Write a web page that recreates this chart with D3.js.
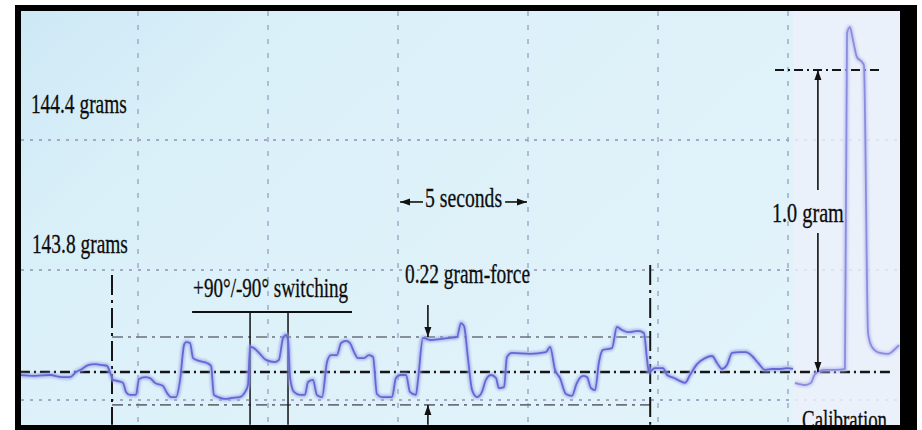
<!DOCTYPE html>
<html>
<head>
<meta charset="utf-8">
<script src="https://cdn.jsdelivr.net/npm/d3@7"></script>
<style>
  html, body { margin: 0; padding: 0; background: #fff; }
  svg { display: block; }
</style>
</head>
<body>
<svg id="chart" width="922" height="430"></svg>
<script>
// strip-chart trace: time in seconds, force in mg relative to the reference level
const traceTime = [0.46, 1.04, 1.62, 2.08, 2.38, 2.62, 2.85, 3.08, 3.35, 3.62, 3.81, 3.92,
  4.04, 4.23, 4.42, 4.54, 4.69, 4.92, 5.04, 5.27, 5.46, 5.65, 5.96, 6.12, 6.27, 6.46, 6.62,
  6.77, 6.85, 7.00, 7.12, 7.38, 7.65, 7.81, 7.92, 8.08, 8.35, 8.62, 8.92, 9.12, 9.23, 9.31,
  9.46, 9.69, 9.92, 10.27, 10.42, 10.58, 10.69, 10.77, 10.85, 11.00, 11.23, 11.42, 11.54,
  11.73, 11.88, 12.08, 12.27, 12.42, 12.65, 12.81, 13.00, 13.15, 13.31, 13.46, 13.69, 13.88,
  14.04, 14.19, 14.38, 14.77, 14.92, 15.08, 15.31, 15.46, 15.69, 15.77, 15.96, 16.23, 16.62,
  17.00, 17.27, 17.42, 17.54, 17.69, 17.85, 18.04, 18.23, 18.38, 18.58, 18.77, 18.88, 19.08,
  19.19, 19.38, 20.08, 20.69, 20.85, 21.04, 21.23, 21.46, 21.69, 21.88, 22.12, 22.27, 22.42,
  22.58, 22.73, 22.88, 23.23, 23.42, 23.62, 23.85, 24.23, 24.46, 24.58, 24.65, 24.88, 25.19,
  25.35, 25.62, 25.85, 26.04, 26.23, 26.50, 26.81, 27.08, 27.27, 27.46, 27.65, 27.85, 28.15,
  28.38, 28.62, 28.85, 29.12, 29.38, 29.69, 29.96, 30.19];
const traceForce = [-10, -13, -10, -17, -17, 0, 10, 23, 26, 23, 20, 0,
  -26, -30, -36, -66, -76, -76, -23, -17, -20, -36, -46, -70, -83, -83, -26,
  89, 99, 96, 46, 36, 30, 20, -76, -83, -89, -86, -83, -66, -43, 83,
  79, 60, 40, 33, 40, 113, 123, 106, -20, -66, -76, -76, -33,
  -26, -76, -83, 33, 56, 56, 96, 103, 96, 66, 46, 46, 56,
  50, -73, -83, -83, -20, -10, -10, -66, -76, -26, 113, 106, 109,
  113, 116, 162, 152, 46, -60, -83, -66, -26, -10, -20, -53, -50,
  50, 63, 60, 66, 83, 7, -20, -73, -79, -36, -13, -17, -53,
  -60, 33, 73, 79, 149, 139, 132, 136, 129, 40, 0, 13, 13,
  -10, -20, -30, -36, -10, 26, 46, 53, 30, 10, 23, 63, 66,
  66, 53, 30, 7, 10, 10, 13, 10];

// calibration panel, 1.0 gram weight added
const calTime = [30.27, 30.65, 30.88, 31.04, 31.42, 31.81, 32.19, 32.27, 32.38, 32.50,
  32.65, 32.85, 32.92, 33.08, 33.23, 33.54, 33.85, 34.08, 34.27];
const calForce = [-36, -43, -36, -7, 7, 7, 10, 1122, 1142, 1099,
  1043, 1026, 1016, 129, 83, 63, 60, 73, 89];

// chart paper grid
const gridTimes = [5, 10, 15, 20, 25, 30];
const gridForces = [768, 338, -93];

// reference levels (mg) and event times (s)
const baseLevel = 0;
const highLevel = 116;
const lowLevel = -109;
const calLevel = 1000;
const markerTimes = [4.0, 24.7];
const switchSpan = [7.08, 13.23];
const switchTicks = [9.31, 10.77];

main();

function main () {
  const svg = d3.select('#chart');
  const x = d3.scaleLinear().domain([0, 35]).range([8, 918]);
  const y = d3.scaleLinear().domain([0, 1000]).range([372, 70]);
  const bottom = -175;

  drawFrame(svg);
  const g = svg.append('g').attr('clip-path', 'url(#panel)');
  drawPaper(g, x, y);
  drawGuides(g, x, y, bottom);
  drawTrace(g, x, y);
  drawLabels(g, x, y, bottom);
}

function drawFrame (svg) {
  const defs = svg.append('defs');
  defs.append('clipPath').attr('id', 'panel')
    .append('rect').attr('x', 21).attr('y', 11).attr('width', 879).attr('height', 414);

  const grad = defs.append('linearGradient').attr('id', 'paper')
    .attr('x1', '0%').attr('x2', '100%').attr('y1', '0%').attr('y2', '50%');
  grad.append('stop').attr('offset', '0%').attr('stop-color', '#cde8f5');
  grad.append('stop').attr('offset', '25%').attr('stop-color', '#daf0f9');
  grad.append('stop').attr('offset', '100%').attr('stop-color', '#e2f3fa');

  defs.append('filter').attr('id', 'soft')
    .attr('x', '-5%').attr('y', '-5%').attr('width', '110%').attr('height', '110%')
    .append('feGaussianBlur').attr('stdDeviation', 1.2);

  defs.append('marker').attr('id', 'head')
    .attr('viewBox', '0 0 10 10').attr('refX', 10).attr('refY', 5)
    .attr('markerWidth', 10).attr('markerHeight', 11)
    .attr('markerUnits', 'userSpaceOnUse').attr('orient', 'auto')
    .append('path').attr('d', 'M0,1.5L10,5L0,8.5Z').attr('fill', '#111');

  svg.append('rect').attr('x', 0).attr('y', 0).attr('width', 922).attr('height', 430).attr('fill', '#fff');
  svg.append('rect').attr('x', 15).attr('y', 5).attr('width', 902).attr('height', 425).attr('fill', '#000');
  svg.append('rect').attr('x', 21).attr('y', 11).attr('width', 879).attr('height', 414).attr('fill', 'url(#paper)');
}

function drawPaper (g, x, y) {
  g.selectAll('.vgrid').data(gridTimes).join('line')
    .attr('x1', d => x(d)).attr('x2', d => x(d))
    .attr('y1', 11).attr('y2', 425)
    .attr('stroke', '#a4a8cc').attr('stroke-width', 1.5)
    .attr('stroke-dasharray', '5,9');

  g.selectAll('.hgrid').data(gridForces).join('line')
    .attr('x1', 21).attr('x2', 900)
    .attr('y1', d => y(d)).attr('y2', d => y(d))
    .attr('stroke', '#a4a9c8').attr('stroke-width', 2)
    .attr('stroke-dasharray', '3,6');

  // calibration section of the paper is paler
  g.append('rect')
    .attr('x', x(30.19)).attr('y', 11)
    .attr('width', 900 - x(30.19)).attr('height', 414)
    .attr('fill', '#eef0fa').attr('opacity', 0.8);
}

function drawGuides (g, x, y, bottom) {
  [highLevel, lowLevel].forEach(v => {
    g.append('line')
      .attr('x1', x(markerTimes[0])).attr('x2', x(markerTimes[1]))
      .attr('y1', y(v)).attr('y2', y(v))
      .attr('stroke', '#6c727c').attr('stroke-width', 1.6)
      .attr('stroke-dasharray', '11,5,3,5');
  });

  g.append('line')
    .attr('x1', x(0.46)).attr('x2', x(33.92))
    .attr('y1', y(baseLevel)).attr('y2', y(baseLevel))
    .attr('stroke', '#151515').attr('stroke-width', 2.5)
    .attr('stroke-dasharray', '10,4,2,4');

  g.append('line')
    .attr('x1', x(29.5)).attr('x2', x(33.65))
    .attr('y1', y(calLevel)).attr('y2', y(calLevel))
    .attr('stroke', '#151515').attr('stroke-width', 2)
    .attr('stroke-dasharray', '9,4,2,4');

  const markerTops = [321, 354];
  markerTimes.forEach((t, i) => {
    g.append('line')
      .attr('x1', x(t)).attr('x2', x(t))
      .attr('y1', y(markerTops[i])).attr('y2', y(bottom))
      .attr('stroke', '#151515').attr('stroke-width', 2)
      .attr('stroke-dasharray', '20,5,3,5');
  });

  // +90/-90 bracket
  g.append('line')
    .attr('x1', x(switchSpan[0])).attr('x2', x(switchSpan[1]))
    .attr('y1', y(199)).attr('y2', y(199))
    .attr('stroke', '#111').attr('stroke-width', 2);
  switchTicks.forEach(t => {
    g.append('line')
      .attr('x1', x(t)).attr('x2', x(t))
      .attr('y1', y(199)).attr('y2', y(bottom))
      .attr('stroke', '#111').attr('stroke-width', 1.5);
  });
}

function drawTrace (g, x, y) {
  const line = d3.line()
    .x(d => x(d[0]))
    .y(d => y(d[1]))
    .curve(d3.curveMonotoneX);

  const main = d3.zip(traceTime, traceForce);
  const cal = d3.zip(calTime, calForce);

  g.append('path').attr('d', line(main))
    .attr('fill', 'none').attr('stroke', '#9ea6ea')
    .attr('stroke-width', 5).attr('opacity', 0.7)
    .attr('filter', 'url(#soft)');
  g.append('path').attr('d', line(main))
    .attr('fill', 'none').attr('stroke', '#6468d4')
    .attr('stroke-width', 1.8).attr('stroke-linejoin', 'round');

  g.append('path').attr('d', line(cal))
    .attr('fill', 'none').attr('stroke', '#b8bcee')
    .attr('stroke-width', 5).attr('opacity', 0.7)
    .attr('filter', 'url(#soft)');
  g.append('path').attr('d', line(cal))
    .attr('fill', 'none').attr('stroke', '#8a8ce0')
    .attr('stroke-width', 1.8).attr('stroke-linejoin', 'round');
}

function drawLabels (g, x, y, bottom) {
  const labels = [
    { text: '144.4 grams', t: 0.88, v: 858, w: 96 },
    { text: '143.8 grams', t: 0.92, v: 394, w: 96 },
    { text: '5 seconds', t: 16.04, v: 546, w: 77 },
    { text: '+90°/-90° switching', t: 7.12, v: 248, w: 155 },
    { text: '0.22 gram-force', t: 15.27, v: 295, w: 125 },
    { text: '1.0 gram', t: 29.38, v: 497, w: 72 },
    { text: 'Calibration', t: 30.54, v: -190, w: 85 }
  ];
  g.selectAll('.label').data(labels).join('text')
    .attr('x', d => x(d.t)).attr('y', d => y(d.v))
    .attr('textLength', d => d.w)
    .attr('lengthAdjust', 'spacingAndGlyphs')
    .attr('font-family', '"Liberation Serif", "DejaVu Serif", serif')
    .attr('font-size', '27px')
    .attr('fill', '#0d0d0d')
    .attr('stroke', '#0d0d0d').attr('stroke-width', 0.3)
    .text(d => d.text);

  const arrows = [
    { t0: 15.96, t1: 15.08, v0: 563, v1: 563 },
    { t0: 19.12, t1: 19.96, v0: 563, v1: 563 },
    { t0: 16.15, t1: 16.15, v0: 222, v1: highLevel },
    { t0: 16.15, t1: 16.15, v0: bottom, v1: lowLevel },
    { t0: 31.15, t1: 31.15, v0: 603, v1: calLevel },
    { t0: 31.15, t1: 31.15, v0: 460, v1: baseLevel }
  ];
  g.selectAll('.arrow').data(arrows).join('line')
    .attr('x1', d => x(d.t0)).attr('x2', d => x(d.t1))
    .attr('y1', d => y(d.v0)).attr('y2', d => y(d.v1))
    .attr('stroke', '#111').attr('stroke-width', 1.6)
    .attr('marker-end', 'url(#head)');
}
</script>
</body>
</html>
